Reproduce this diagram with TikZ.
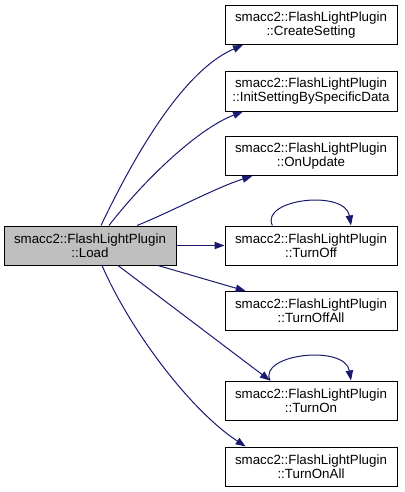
\documentclass[tikz,border=0pt]{standalone}
\usepackage{fontspec}
\setmainfont{Liberation Sans}
\usetikzlibrary{arrows.meta,calc}
\definecolor{edgeblue}{HTML}{191970}
\begin{document}
\begin{tikzpicture}[x=0.75pt,y=-0.75pt,
  fbox/.style={draw=black,line width=0.75pt,minimum width=129pt,minimum height=29.25pt,inner sep=0pt,align=center,font=\fontsize{10}{10.5}\selectfont},
  cur/.style={fbox,fill=gray!50!white},
  edge/.style={draw=edgeblue,line width=0.75pt,-{Triangle[length=7.5pt,width=5.5pt]}}]
\useasboundingbox (0,0) rectangle (404,492);
\node[cur] (load) at (90,245.5) {smacc2::FlashLightPlugin\\::Load};
\node[fbox] (cs) at (311,25) {smacc2::FlashLightPlugin\\::CreateSetting};
\node[fbox] (is) at (311,91.5) {smacc2::FlashLightPlugin\\::InitSettingBySpecificData};
\node[fbox] (ou) at (311,156) {smacc2::FlashLightPlugin\\::OnUpdate};
\node[fbox] (toff) at (311,245.5) {smacc2::FlashLightPlugin\\::TurnOff};
\node[fbox] (toffa) at (311,311) {smacc2::FlashLightPlugin\\::TurnOffAll};
\node[fbox] (ton) at (311,400.5) {smacc2::FlashLightPlugin\\::TurnOn};
\node[fbox] (tona) at (311,466.5) {smacc2::FlashLightPlugin\\::TurnOnAll};
% edges
\draw[edge] ([xshift=8.25pt]load.north) .. controls (130,165) and (180,72) .. ([xshift=-51pt]cs.south);
\draw[edge] ([xshift=14.25pt]load.north) .. controls (140,185) and (195,130) .. ([xshift=-51pt]is.south);
\draw[edge] ([xshift=35.25pt]load.north) .. controls (175,210) and (215,188) .. ([xshift=-44pt]ou.south);
\draw[edge] (load.east) -- (toff.west);
\draw[edge] ([xshift=51pt]load.south) -- ([xshift=-49pt]toffa.north);
\draw[edge] ([xshift=21pt]load.south) -- ([xshift=-30.75pt]ton.north);
\draw[edge] ([xshift=9pt]load.south) .. controls (130,330) and (190,410) .. ([xshift=-49pt]tona.north);
% self loops
\draw[edge] ([xshift=-29pt]toff.north) .. controls (260,199) and (345,189) .. ([xshift=30pt]toff.north);
\draw[edge] ([xshift=-30.75pt]ton.north) .. controls (258,354) and (345,344) .. ([xshift=30pt]ton.north);
\end{tikzpicture}
\end{document}
